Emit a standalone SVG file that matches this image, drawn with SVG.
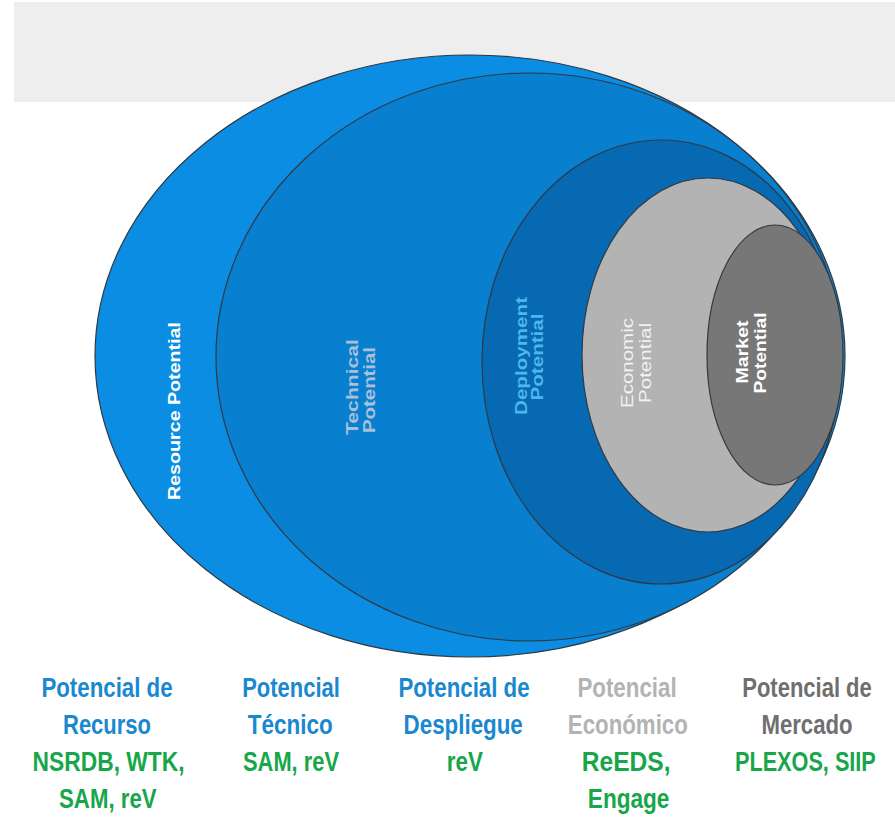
<svg xmlns="http://www.w3.org/2000/svg" width="895" height="822" viewBox="0 0 895 822">
<defs>
<style>
.ell{stroke:#2f3a44;stroke-width:1.2}
.rt{font-family:"Liberation Sans",Arial,sans-serif;font-size:17px;text-anchor:middle}
.lb{font-family:"Liberation Sans",Arial,sans-serif;font-size:28px;font-weight:bold;text-anchor:middle}
.blue{fill:#1a88d0}
.green{fill:#17a64a}
.lgray{fill:#b3b3b3}
.dgray{fill:#6f6f6f}
</style>
</defs>
<rect x="14" y="2" width="881" height="100" fill="#eeeeee"/>
<g id="resource">
<ellipse class="ell" cx="470" cy="356" rx="375" ry="301" fill="#0a8de2"/>
<text class="rt" transform="translate(180,411) rotate(-90)" fill="#ffffff" font-weight="bold" textLength="178" lengthAdjust="spacingAndGlyphs">Resource Potential</text>
</g>
<g id="technical">
<ellipse class="ell" cx="529" cy="357" rx="313" ry="284" fill="#087fcf"/>
<text class="rt" transform="translate(358,387) rotate(-90)" fill="#a9c0d8" font-weight="bold" textLength="96" lengthAdjust="spacingAndGlyphs">Technical</text>
<text class="rt" transform="translate(375,390) rotate(-90)" fill="#a9c0d8" font-weight="bold" textLength="86" lengthAdjust="spacingAndGlyphs">Potential</text>
</g>
<g id="deployment">
<ellipse class="ell" cx="661" cy="362" rx="179" ry="222" fill="#0669b2"/>
<text class="rt" transform="translate(527,356) rotate(-90)" fill="#4cb6ee" font-weight="bold" textLength="118" lengthAdjust="spacingAndGlyphs">Deployment</text>
<text class="rt" transform="translate(543,357) rotate(-90)" fill="#4cb6ee" font-weight="bold" textLength="87" lengthAdjust="spacingAndGlyphs">Potential</text>
</g>
<g id="economic">
<ellipse class="ell" cx="708" cy="355" rx="126" ry="177" fill="#b3b3b3"/>
<text class="rt" transform="translate(633,363) rotate(-90)" fill="#f2f2f2" textLength="90" lengthAdjust="spacingAndGlyphs">Economic</text>
<text class="rt" transform="translate(651,363) rotate(-90)" fill="#f2f2f2" textLength="80" lengthAdjust="spacingAndGlyphs">Potential</text>
</g>
<g id="market">
<ellipse class="ell" cx="775" cy="355" rx="68" ry="130" fill="#777777"/>
<text class="rt" transform="translate(748,352) rotate(-90)" fill="#ffffff" font-weight="bold" textLength="63" lengthAdjust="spacingAndGlyphs">Market</text>
<text class="rt" transform="translate(766,353) rotate(-90)" fill="#ffffff" font-weight="bold" textLength="81" lengthAdjust="spacingAndGlyphs">Potential</text>
</g>
<g id="label-recurso" transform="matrix(0.8 0 0 1 107 0)">
<text class="lb blue" x="0" y="697" textLength="164" lengthAdjust="spacingAndGlyphs">Potencial de</text>
<text class="lb blue" x="0" y="734" textLength="110" lengthAdjust="spacingAndGlyphs">Recurso</text>
<text class="lb green" x="2" y="771" textLength="190" lengthAdjust="spacingAndGlyphs">NSRDB, WTK,</text>
<text class="lb green" x="1" y="808" textLength="122" lengthAdjust="spacingAndGlyphs">SAM, reV</text>
</g>
<g id="label-tecnico" transform="matrix(0.8 0 0 1 291 0)">
<text class="lb blue" x="0" y="697" textLength="122" lengthAdjust="spacingAndGlyphs">Potencial</text>
<text class="lb blue" x="-1" y="734" textLength="106" lengthAdjust="spacingAndGlyphs">Técnico</text>
<text class="lb green" x="0" y="771" textLength="120" lengthAdjust="spacingAndGlyphs">SAM, reV</text>
</g>
<g id="label-despliegue" transform="matrix(0.8 0 0 1 464 0)">
<text class="lb blue" x="0" y="697" textLength="164" lengthAdjust="spacingAndGlyphs">Potencial de</text>
<text class="lb blue" x="-1" y="734" textLength="149" lengthAdjust="spacingAndGlyphs">Despliegue</text>
<text class="lb green" x="1" y="771" textLength="45" lengthAdjust="spacingAndGlyphs">reV</text>
</g>
<g id="label-economico" transform="matrix(0.8 0 0 1 627 0)">
<text class="lb lgray" x="0" y="697" textLength="124" lengthAdjust="spacingAndGlyphs" font-weight="normal">Potencial</text>
<text class="lb lgray" x="1" y="734" textLength="150" lengthAdjust="spacingAndGlyphs" font-weight="normal">Económico</text>
<text class="lb green" x="-1" y="771" textLength="111" lengthAdjust="spacingAndGlyphs">ReEDS,</text>
<text class="lb green" x="2" y="808" textLength="102" lengthAdjust="spacingAndGlyphs">Engage</text>
</g>
<g id="label-mercado" transform="matrix(0.8 0 0 1 807 0)">
<text class="lb dgray" x="0" y="697" textLength="162" lengthAdjust="spacingAndGlyphs">Potencial de</text>
<text class="lb dgray" x="0" y="734" textLength="114" lengthAdjust="spacingAndGlyphs">Mercado</text>
<text class="lb green" x="-2" y="771" textLength="176" lengthAdjust="spacingAndGlyphs">PLEXOS, SIIP</text>
</g>
<g id="connectors"/>
</svg>
